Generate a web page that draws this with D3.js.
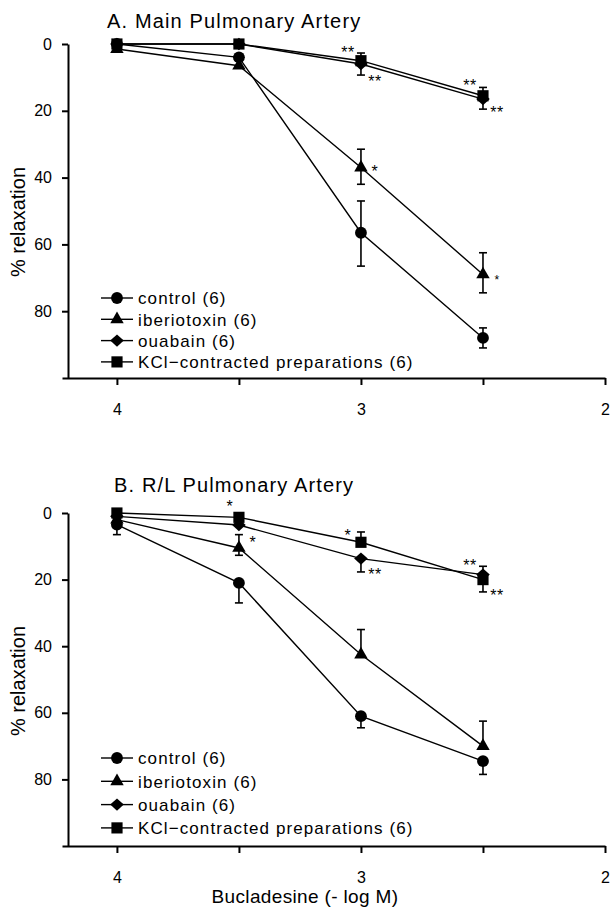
<!DOCTYPE html>
<html><head><meta charset="utf-8">
<script src="https://cdn.jsdelivr.net/npm/d3@7"></script>
<style>
html,body{margin:0;padding:0;background:#fff;}
svg{display:block;font-family:"Liberation Sans",Arial,sans-serif;}
</style></head>
<body>
<svg id="chart" width="610" height="908"></svg>
<script>
// ---------- data ----------
const doses = [4, 3.5, 3, 2.5];          // -log M
const xTickValues = [4, 3.5, 3, 2.5, 2];
const xTickLabels = ["4", "", "3", "", "2"];
const yTickValues = [0, 20, 40, 60, 80];

const seriesNames = ["control (6)", "iberiotoxin (6)", "ouabain (6)", "KCl\u2212contracted preparations (6)"];
const seriesSymbols = ["circle", "triangle", "diamond", "square"];

// Panel A: Main Pulmonary Artery
const aControl      = [0, 4, 56.5, 88];
const aControlUp    = [0, 0, 9.5, 3];
const aControlDn    = [0, 0, 10, 3];
const aIberio       = [1.5, 6.5, 37, 69];
const aIberioUp     = [0, 0, 5.5, 6.5];
const aIberioDn     = [0, 0, 5, 5.5];
const aOuabain      = [0, 0, 6, 16.5];
const aOuabainUp    = [0, 0, 0, 0];
const aOuabainDn    = [0, 0, 3.3, 3];
const aKCl          = [0, 0, 5, 15.5];
const aKClUp        = [0, 0, 2.3, 2.5];
const aKClDn        = [0, 0, 0, 0];
// significance marks: [dose, value, text, side]
const aMarks = [[3, 1.5, "**", "left"], [3, 10.2, "**", "right"], [2.5, 11.4, "**", "left"],
                [2.5, 19.5, "**", "right"], [3, 37, "*", "right"], [2.5, 69.8, "*", "rightSmall"]];

// Panel B: R/L Pulmonary Artery
const bControl      = [3.5, 21, 61, 74.5];
const bControlUp    = [0, 0, 0, 0];
const bControlDn    = [3, 6, 3.5, 4];
const bIberio       = [2, 10.5, 42.5, 70];
const bIberioUp     = [0, 4, 7.5, 7.5];
const bIberioDn     = [0, 2.2, 0, 0];
const bOuabain      = [1, 3.6, 13.7, 18.5];
const bOuabainUp    = [0, 0, 0, 2.5];
const bOuabainDn    = [0, 0, 4, 0];
const bKCl          = [0, 1.3, 8.8, 20];
const bKClUp        = [0, 0, 3.1, 0];
const bKClDn        = [0, 0, 0, 3.7];
const bMarks = [[3.5, -3, "*", "top"], [3.5, 7.8, "*", "right"], [3, 5.5, "*", "left"],
                [3, 17.4, "**", "right"], [2.5, 14.7, "**", "left"], [2.5, 23.7, "**", "right"]];

const panels = [
  { title: "A. Main Pulmonary Artery", top: 44, bottom: 378, titleX: 107, titleY: 28, ylabY: 222,
    legendY: 298, legendStep: 21.3,
    values: [aControl, aIberio, aOuabain, aKCl],
    ups: [aControlUp, aIberioUp, aOuabainUp, aKClUp],
    dns: [aControlDn, aIberioDn, aOuabainDn, aKClDn], marks: aMarks },
  { title: "B. R/L Pulmonary Artery", top: 513, bottom: 846, titleX: 114, titleY: 492, ylabY: 681,
    legendY: 758, legendStep: 23.3,
    values: [bControl, bIberio, bOuabain, bKCl],
    ups: [bControlUp, bIberioUp, bOuabainUp, bKClUp],
    dns: [bControlDn, bIberioDn, bOuabainDn, bKClDn], marks: bMarks }
];

// ---------- drawing ----------
const svg = d3.select("#chart");
const x = d3.scaleLinear().domain([4.225, 2]).range([62, 605]);
const yAxisX = 68;

function symbolPath(type) {
  switch (type) {
    case "circle": return d3.symbol(d3.symbolCircle, 110)();
    case "triangle": return d3.symbol(d3.symbolTriangle, 78)();
    case "square": return d3.symbol(d3.symbolSquare, 125)();
    case "diamond": return "M0,-6.2L6.8,0L0,6.2L-6.8,0Z";
  }
}

panels.forEach(p => {
  const y = d3.scaleLinear().domain([0, 100]).range([p.top, p.bottom]);
  const g = svg.append("g");

  // title
  g.append("text").attr("x", p.titleX).attr("y", p.titleY)
    .attr("font-size", 20).attr("letter-spacing", 1.15).attr("fill", "#000").text(p.title);

  // x axis
  const xAxis = d3.axisBottom(x).tickValues(xTickValues)
    .tickFormat((d, i) => xTickLabels[i]).tickSize(7).tickSizeOuter(0).tickPadding(19);
  const xg = g.append("g").attr("transform", `translate(0,${p.bottom})`).call(xAxis);
  xg.select(".domain").attr("stroke", "#000").attr("stroke-width", 2);
  xg.selectAll(".tick line").attr("stroke", "#000").attr("stroke-width", 2);
  xg.selectAll("text").attr("font-size", 16).attr("fill", "#000")
    .attr("font-family", "Liberation Sans, Arial, sans-serif");

  // y axis
  const yAxis = d3.axisLeft(y).tickValues(yTickValues).tickSize(6).tickSizeOuter(0).tickPadding(10);
  const yg = g.append("g").attr("transform", `translate(${yAxisX},0)`).call(yAxis);
  yg.select(".domain").attr("stroke", "#000").attr("stroke-width", 2);
  yg.selectAll(".tick line").attr("stroke", "#000").attr("stroke-width", 2);
  yg.selectAll("text").attr("font-size", 16).attr("fill", "#000")
    .attr("font-family", "Liberation Sans, Arial, sans-serif");

  // y label
  g.append("text").attr("transform", `translate(25,${p.ylabY}) rotate(-90)`)
    .attr("text-anchor", "middle").attr("font-size", 20).attr("fill", "#000").text("% relaxation");

  // lines
  const line = d3.line().x((d, i) => x(doses[i])).y(d => y(d));
  p.values.forEach(vals => {
    g.append("path").datum(vals).attr("d", line)
      .attr("fill", "none").attr("stroke", "#000").attr("stroke-width", 1.4);
  });

  // error bars
  p.values.forEach((vals, s) => {
    vals.forEach((v, i) => {
      const cx = x(doses[i]);
      const up = p.ups[s][i], dn = p.dns[s][i];
      [[up, -1], [dn, 1]].forEach(([e, dir]) => {
        if (e <= 0) return;
        const ye = y(v + dir * e);
        g.append("line").attr("x1", cx).attr("x2", cx).attr("y1", y(v)).attr("y2", ye)
          .attr("stroke", "#000").attr("stroke-width", 1.6);
        g.append("line").attr("x1", cx - 4).attr("x2", cx + 4).attr("y1", ye).attr("y2", ye)
          .attr("stroke", "#000").attr("stroke-width", 1.6);
      });
    });
  });

  // markers
  p.values.forEach((vals, s) => {
    g.selectAll(null).data(vals).enter().append("path")
      .attr("d", symbolPath(seriesSymbols[s]))
      .attr("transform", (d, i) => `translate(${x(doses[i])},${y(d)})`)
      .attr("fill", "#000");
  });

  // significance marks
  p.marks.forEach(([dose, val, txt, side]) => {
    let dx = 0, fs = 16;
    if (side === "left") dx = -13;
    else if (side === "right") dx = 14;
    else if (side === "rightSmall") { dx = 14; fs = 12; }
    else if (side === "top") dx = -9;
    g.append("text").attr("x", x(dose) + dx).attr("y", y(val) + fs * 0.58)
      .attr("text-anchor", "middle").attr("font-size", fs).attr("letter-spacing", 0.5)
      .attr("fill", "#000").text(txt);
  });

  // legend
  seriesNames.forEach((name, s) => {
    const ly = p.legendY + s * p.legendStep;
    const lg = g.append("g");
    lg.append("line").attr("x1", 101).attr("x2", 133).attr("y1", ly).attr("y2", ly)
      .attr("stroke", "#000").attr("stroke-width", 1.4);
    lg.append("path").attr("d", symbolPath(seriesSymbols[s]))
      .attr("transform", `translate(117,${ly})`).attr("fill", "#000");
    lg.append("text").attr("x", 138).attr("y", ly + 6.2).attr("font-size", 17)
      .attr("letter-spacing", 1.1).attr("fill", "#000").text(name);
  });
});

// x label
svg.append("text").attr("x", 305).attr("y", 903).attr("text-anchor", "middle")
  .attr("font-size", 19).attr("letter-spacing", 0.35).attr("fill", "#000").text("Bucladesine (- log M)");
</script>
</body></html>
